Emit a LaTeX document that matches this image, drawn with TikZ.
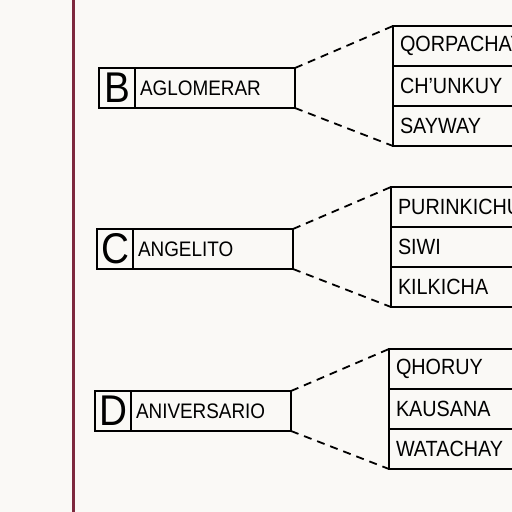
\documentclass[tikz,border=0pt]{standalone}
\usepackage{fontspec}
\setmainfont{Liberation Sans}[FakeStretch=0.9]
\definecolor{paper}{RGB}{250,249,246}
\definecolor{margin}{RGB}{125,40,62}

\begin{document}
\begin{tikzpicture}[x=1pt,y=-1pt,line width=1.8pt]
		\tikzstyle{cell}=[draw=black,rectangle,inner sep=0pt,outer sep=0pt,minimum height=40pt]
		\tikzstyle{letter}=[cell,minimum width=36pt,font=\fontsize{43}{43}\selectfont]
		\tikzstyle{word}=[cell,minimum width=160pt,text width=150pt,align=left,font=\fontsize{21}{21}\selectfont]
		\tikzstyle{row}=[cell,minimum width=140pt,text width=126pt,align=left,font=\fontsize{22}{22}\selectfont]
		\tikzstyle{link}=[draw=black,dashed,dash pattern=on 8pt off 6pt]
		
		\useasboundingbox (0,0) rectangle (512,512);
		\fill[paper] (0,0) rectangle (512,512);
		\clip (0,0) rectangle (512,512);
		
		% Margin line of the sheet
		\draw[margin,line width=3pt] (73,0) -- (73,512);
		
		% Draw the letter and word boxes with their tables
		\foreach \name / \y / \tx / \word / \a / \b / \c in {
			B/88/393/AGLOMERAR/QORPACHAY/CH’UNKUY/SAYWAY,
			C/249/391/ANGELITO/PURINKICHU/SIWI/KILKICHA,
			D/411/389/ANIVERSARIO/QHORUY/KAUSANA/WATACHAY}
		{
			\node[letter,anchor=west] (L-\name) at (\tx-294,\y) {\name};
			\node[word,anchor=west] (W-\name) at (L-\name.east) {\word};
			
			\node[row,anchor=north west] (T-\name-1) at (\tx,\y-62) {\a};
			\node[row,anchor=north west] (T-\name-2) at (T-\name-1.south west) {\b};
			\node[row,anchor=north west] (T-\name-3) at (T-\name-2.south west) {\c};
			
			% Connect the word box with its table
			\path[link] (W-\name.north east) -- (T-\name-1.north west);
			\path[link] (W-\name.south east) -- (T-\name-3.south west);
		}
\end{tikzpicture}
\end{document}
